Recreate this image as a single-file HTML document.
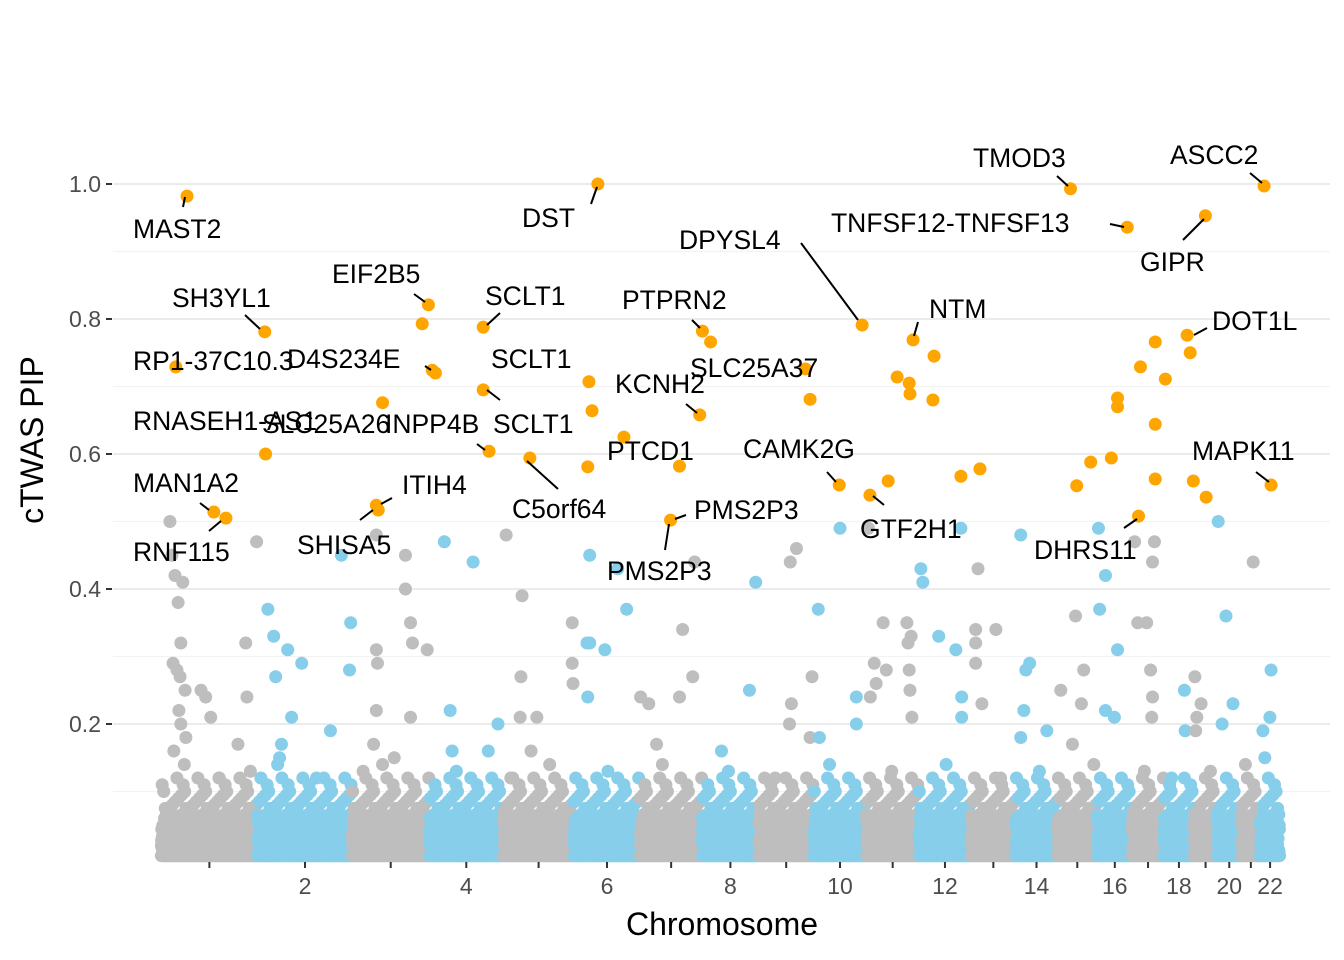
<!DOCTYPE html>
<html><head><meta charset="utf-8"><style>
html,body{margin:0;padding:0;background:#fff;}
svg{display:block;font-family:"Liberation Sans",sans-serif;}
</style></head><body>
<svg id="chart" width="1344" height="960">
<g id="grid"></g>
<g id="pts"></g>
<g id="labs"></g>
<g id="axes"></g>
<text x="722" y="935" font-size="32" text-anchor="middle" fill="#000">Chromosome</text>
<text x="0" y="0" font-size="32" text-anchor="middle" fill="#000" transform="translate(43,440) rotate(-90)">cTWAS PIP</text>
</svg>
<script>
const chrLengths=[249,243,198,191,181,171,159,146,141,136,135,134,115,107,103,90,81,78,59,63,48,51];
const yTicks=[0.2,0.4,0.6,0.8,1.0];
const yTickLabels=["0.2","0.4","0.6","0.8","1.0"];
const lowPip=[0.02,0.05,0.08,0.03,0.11,0.06,0.01,0.09,0.04,0.07,0.065,0.02,0.10,0.05,0.035,0.03,0.06,0.01,0.085,0.04,0.075,0.015,0.055,0.095,0.045,0.025,0.12];
const bgPoints=[[23,.50],[28,.45],[36,.42],[44,.38],[56,.41],[51,.32],[31,.29],[41,.28],[49,.27],[62,.25],[46,.22],[51,.20],[64,.18],[103,.25],[115,.24],[128,.21],[33,.16],[218,.32],[221,.24],[198,.17],[246,.47],
[275,.37],[290,.33],[326,.31],[362,.29],[295,.27],[336,.21],[310,.17],[305,.15],[436,.19],[464,.45],[488,.35],[485,.28],
[554,.48],[629,.45],[629,.40],[642,.35],[647,.32],[685,.31],[554,.31],[557,.29],[554,.22],[547,.17],[570,.14],[642,.21],
[729,.47],[803,.44],[744,.22],[749,.16],[867,.20],[842,.16],
[888,.48],[929,.39],[926,.27],[924,.21],[967,.21],[952,.16],
[1103,.45],[1096,.32],[1103,.32],[1142,.31],[1198,.37],[1175,.43],[1058,.35],[1058,.29],[1060,.26],[1098,.24],
[1342,.34],[1234,.24],[1255,.23],[1334,.24],[1368,.27],[1373,.44],[1275,.17],
[1530,.41],[1514,.25],[1442,.16],
[1635,.46],[1619,.44],[1622,.23],[1617,.20],[1675,.27],[1670,.18],
[1747,.49],[1691,.37],[1789,.24],[1789,.20],[1694,.18],
[1820,.49],[1835,.29],[1858,.35],[1866,.28],[1840,.26],[1825,.24],[1919,.35],[1930,.33],[1922,.32],[1925,.28],[1927,.25],[1932,.21],
[1955,.43],[1960,.41],[2001,.33],[2045,.31],[2058,.49],[2060,.24],[2060,.21],
[2102,.43],[2096,.34],[2096,.32],[2096,.29],[2148,.34],[2112,.23],
[2212,.48],[2235,.29],[2225,.28],[2220,.22],[2212,.18],[2279,.19],
[2353,.36],[2374,.28],[2315,.25],[2368,.23],[2345,.17],
[2412,.49],[2415,.37],[2430,.42],[2461,.31],[2430,.22],[2453,.21],
[2505,.47],[2513,.35],[2536,.35],[2546,.28],[2551,.24],[2549,.21],[2556,.47],[2551,.44],
[2633,.25],[2635,.19],[2660,.27],[2676,.23],[2665,.21],[2662,.19],
[2720,.50],[2740,.36],[2758,.23],[2730,.20],[2810,.44],[2856,.28],[2853,.21],[2835,.19],
[60,.14],[150,.12],[230,.13],[300,.14],[400,.12],[520,.13],[600,.15],[760,.13],[900,.12],[1000,.14],[1150,.13],[1290,.14],[1460,.13],[1580,.12],[1720,.14],[1880,.13],[2020,.14],[2160,.12],[2260,.13],[2400,.14],[2530,.13],[2600,.12],[2700,.13],[2790,.14],[2840,.15]];
const sigPos=[67,1124,2340,2838,2486,2687,1804,1935,2640,267,688,672,829,1393,1414,38,698,706,829,570,1101,1109,1191,1386,1658,1670,269,844,949,1098,1334,1745,1871,1824,1894,1925,1927,1989,1986,2058,2107,559,554,136,167,1311,2356,2392,2445,2461,2461,2520,2558,2584,2558,2558,2515,2648,2656,2689,2856];
const sigPip=[.982,1.0,.993,.997,.936,.953,.791,.769,.776,.781,.821,.793,.788,.782,.766,.729,.724,.72,.695,.676,.707,.664,.625,.658,.726,.681,.60,.604,.594,.581,.582,.554,.56,.539,.714,.705,.689,.745,.68,.567,.578,.517,.524,.514,.505,.502,.553,.588,.594,.683,.67,.729,.766,.711,.644,.563,.508,.75,.56,.536,.554];
const labels=[["MAST2",133,238,183,207,185,197],["DST",522,227,591,204,597,187],["TMOD3",973,167,1057,176,1068,186],["ASCC2",1170,164,1250,173,1262,183],["TNFSF12-TNFSF13",831,232,1110,224,1124,227],["GIPR",1140,271,1183,240,1204,219],["DPYSL4",679,249,801,243,858,320],["NTM",929,318,918,322,914,336],["DOT1L",1212,330,1207,328,1194,335],["SH3YL1",172,307,245,315,260,329],["EIF2B5",332,283,414,294,425,302],["SCLT1",485,305,500,313,487,325],["RP1-37C10.3",133,370],["D4S234E",287,368,425,366,431,370],["SCLT1",491,368],["PTPRN2",622,309,692,320,700,328],["SLC25A37",690,377],["KCNH2",615,393,686,404,697,413],["RNASEH1-AS1",133,430],["SLC25A26",262,433],["INPP4B",385,433,477,444,485,450],["SCLT1",493,433,500,400,487,390],["PTCD1",607,460],["CAMK2G",743,458,827,472,836,482],["MAPK11",1192,460,1256,472,1269,482],["MAN1A2",133,492,200,503,209,510],["ITIH4",402,494,392,498,381,504],["C5orf64",512,518,558,489,527,461],["PMS2P3",694,519,686,515,675,519],["GTF2H1",860,538,884,505,873,496],["DHRS11",1034,559,1124,528,1137,519],["RNF115",133,561,209,531,221,521],["SHISA5",297,554,360,520,373,510],["PMS2P3",607,580,665,550,669,524]];

const NS="http://www.w3.org/2000/svg";
const total=chrLengths.reduce((a,b)=>a+b,0);
const starts=[];let acc=0;chrLengths.forEach(l=>{starts.push(acc);acc+=l;});
const X0=161,X1=1280,Y0=859,YS=675;
const xs=g=>X0+g*(X1-X0)/total;
const ys=p=>Y0-p*YS;
const chrOf=g=>{let c=0;for(let i=0;i<starts.length;i++)if(g>=starts[i])c=i;return c;};
const colOf=g=>chrOf(g)%2===0?"#BEBEBE":"#87CEEB";
function mk(tag,attrs,parent){const e=document.createElementNS(NS,tag);for(const k in attrs)e.setAttribute(k,attrs[k]);parent.appendChild(e);return e;}
const grid=document.getElementById('grid'),pts=document.getElementById('pts'),labs=document.getElementById('labs'),axes=document.getElementById('axes');
for(let v=0.1;v<1.05;v+=0.1){const major=Math.round(v*10)%2===0;
 const l=mk('line',{x1:113,x2:1330,y1:ys(v),y2:ys(v),stroke:major?"#ebebeb":"#f3f3f3","stroke-width":major?2:1.2},grid);
 
 }
yTicks.forEach((v,i)=>{
 const t=mk('line',{x1:106,x2:112,y1:ys(v),y2:ys(v),stroke:"#333","stroke-width":2},axes);
 
 
 const tx=mk('text',{x:101,y:ys(v)+8,"font-size":23,"text-anchor":"end",fill:"#4d4d4d"},axes);
 tx.textContent=yTickLabels[i];
 
 });
chrLengths.forEach((l,i)=>{const xm=xs(starts[i]+l/2);
 const t=mk('line',{x1:xm,x2:xm,y1:862,y2:868,stroke:"#333","stroke-width":2},axes);
 
 
 if((i+1)%2===0){const tx=mk('text',{x:xm,y:894,"font-size":23,"text-anchor":"middle",fill:"#4d4d4d"},axes);
 tx.textContent=String(i+1);
 
 }});
let k=0;
for(let g=1;g<total-1;g+=0.5){const p=lowPip[k%lowPip.length]*(k%4===0?1:0.55);k++;
 const c=mk('circle',{cx:xs(g),cy:ys(p),r:6.5,fill:colOf(g)},pts);
 
 }
for(let g=1;g<total-1;g+=1.3){const c=mk('circle',{cx:xs(g),cy:ys(0.005),r:6.5,fill:colOf(g)},pts);
 
 }
bgPoints.forEach(d=>{const c=mk('circle',{cx:xs(d[0]),cy:ys(d[1]),r:6.5,fill:colOf(d[0])},pts);
 
 });
sigPos.forEach((g,i)=>{const c=mk('circle',{cx:xs(g),cy:ys(sigPip[i]),r:6.5,fill:"#FFA500"},pts);
 
 });
labels.forEach(L=>{
 if(L.length>3){const s=mk('line',{x1:L[3],y1:L[4],x2:L[5],y2:L[6],stroke:"#000","stroke-width":2},labs);
  
  }
 const t=mk('text',{x:L[1],y:L[2],"font-size":26.5,fill:"#000"},labs);
 t.textContent=L[0];
 
 });
</script>
</body></html>
